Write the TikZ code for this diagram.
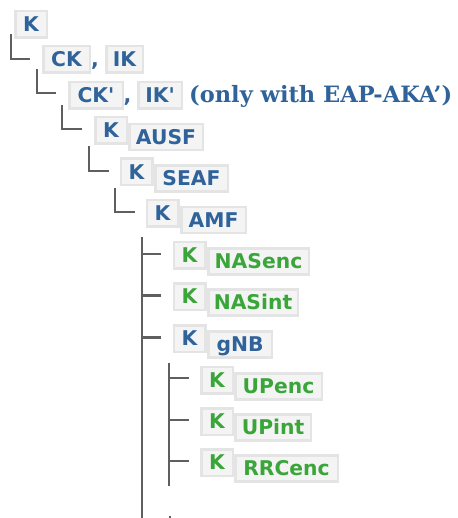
\documentclass[tikz,border=0pt]{standalone}
\usepackage{fontspec}
\newfontfamily\dvs{DejaVu Sans}[Ligatures=TeXOff]
\newfontfamily\dvserif{DejaVu Serif}
\definecolor{kblue}{RGB}{47,99,153}
\definecolor{kgreen}{RGB}{58,166,58}
\definecolor{boxfill}{RGB}{244,244,244}
\definecolor{boxline}{RGB}{228,228,228}
\definecolor{treeline}{RGB}{95,95,95}
\begin{document}
\begin{tikzpicture}[x=1pt,y=-1pt,
  keybox/.style={draw=boxline, fill=boxfill, line width=2.5pt, inner sep=0pt,
    minimum height=26.5pt, text height=14.6pt, text depth=0pt,
    font=\dvs\bfseries\fontsize{20.3}{20.3}\selectfont, text=kblue},
  kk/.style={keybox, minimum width=31.5pt},
  sub/.style={keybox, minimum height=26pt},
  gk/.style={text=kgreen},
  sep/.style={anchor=base, inner sep=0pt, text=kblue, font=\dvs\bfseries\fontsize{20.3}{20.3}\selectfont},
  tree/.style={draw=treeline, line width=2.3pt},
]
\useasboundingbox[fill=white] (0,0) rectangle (457,518);

% boxes
\node[kk] (k0) at (31,24.5) {K};
\node[keybox, minimum width=46.5pt] (ck) at (66.5,59.5) {CK};
\node[sep] (c1) at (95,66.8) {,};
\node[keybox, minimum width=36.5pt] (ik) at (124.5,59.5) {IK};
\node[keybox, minimum width=53.5pt] (ckp) at (96,95.5) {CK'};
\node[sep] (c2) at (127.5,102.8) {,};
\node[keybox, minimum width=43.5pt] (ikp) at (160,95.5) {IK'};
\node[anchor=base west, inner sep=0pt, text=kblue,
  font=\dvserif\bfseries\fontsize{22.5}{22.5}\selectfont] (note) at (189,103) {(only with EAP-AKA’)};

\node[kk] (kausf) at (111,130.5) {K};
\node[sub, minimum width=73.5pt] (ausf) at (166,137) {AUSF};
\node[kk] (kseaf) at (136.5,172) {K};
\node[sub, minimum width=72.5pt] (seaf) at (191.5,178.5) {SEAF};
\node[kk] (kamf) at (162.5,213.5) {K};
\node[sub, minimum width=64.5pt] (amf) at (213.5,220) {AMF};

\node[kk, gk] (knasenc) at (189.5,255) {K};
\node[sub, gk, minimum width=100.5pt] (nasenc) at (258.5,261.5) {NASenc};
\node[kk, gk] (knasint) at (189.5,296.5) {K};
\node[sub, gk, minimum width=89.5pt] (nasint) at (253,302.5) {NASint};
\node[kk] (kgnb) at (189.5,338.5) {K};
\node[sub, minimum width=63.5pt] (gnb) at (240,344.5) {gNB};

\node[kk, gk] (kupenc) at (217,380) {K};
\node[sub, gk, minimum width=86.5pt] (upenc) at (278.5,386.5) {UPenc};
\node[kk, gk] (kupint) at (217,421.5) {K};
\node[sub, gk, minimum width=75.5pt] (upint) at (273,427.5) {UPint};
\node[kk, gk] (krrc) at (217,462.5) {K};
\node[sub, gk, minimum width=102.5pt] (rrcenc) at (286.5,468.5) {RRCenc};

% tree connectors
\draw[tree] ([xshift=-3.25pt,yshift=4.75pt]k0.south west) |- ([xshift=-12.25pt,yshift=0.5pt]ck.west);
\draw[tree] ([xshift=-5.25pt,yshift=4.75pt]ck.south west) |- ([xshift=-12.25pt,yshift=2.5pt]ckp.west);
\draw[tree] ([xshift=-6.25pt,yshift=4.75pt]ckp.south west) |- ([xshift=-12.25pt,yshift=1.5pt]kausf.west);
\draw[tree] ([xshift=-5.25pt,yshift=-1.25pt]kausf.south west) |- ([xshift=-10.75pt,yshift=1pt]kseaf.west);
\draw[tree] ([xshift=-4.75pt,yshift=-1.75pt]kseaf.south west) |- ([xshift=-10.75pt,yshift=1.5pt]kamf.west);

\coordinate (v6) at ([xshift=-3.75pt,yshift=-9.25pt]kamf.south west);
\coordinate (b6) at (143,518);
\draw[tree] (v6) -- (v6 |- b6);
\draw[tree] ([yshift=1pt]v6 |- knasenc.west) -- ([xshift=-11.75pt,yshift=1pt]knasenc.west);
\draw[tree] ([yshift=1pt]v6 |- knasint.west) -- ([xshift=-11.75pt,yshift=1pt]knasint.west);
\draw[tree] ([yshift=1pt]v6 |- kgnb.west) -- ([xshift=-11.75pt,yshift=1pt]kgnb.west);

\coordinate (v7) at ([xshift=-3.75pt,yshift=-10.25pt]kgnb.south west);
\coordinate (b7) at (170,486);
\draw[tree] (v7) -- (v7 |- b7);
\draw[tree] ([yshift=2pt]v7 |- kupenc.west) -- ([xshift=-11.25pt,yshift=2pt]kupenc.west);
\draw[tree] ([yshift=1.5pt]v7 |- kupint.west) -- ([xshift=-11.25pt,yshift=1.5pt]kupint.west);
\draw[tree] ([yshift=1.5pt]v7 |- krrc.west) -- ([xshift=-11.25pt,yshift=1.5pt]krrc.west);

\coordinate (t1) at (170,515.5);
\coordinate (t2) at (170,518);
\draw[tree] (t1) -- (t2);
\end{tikzpicture}
\end{document}
